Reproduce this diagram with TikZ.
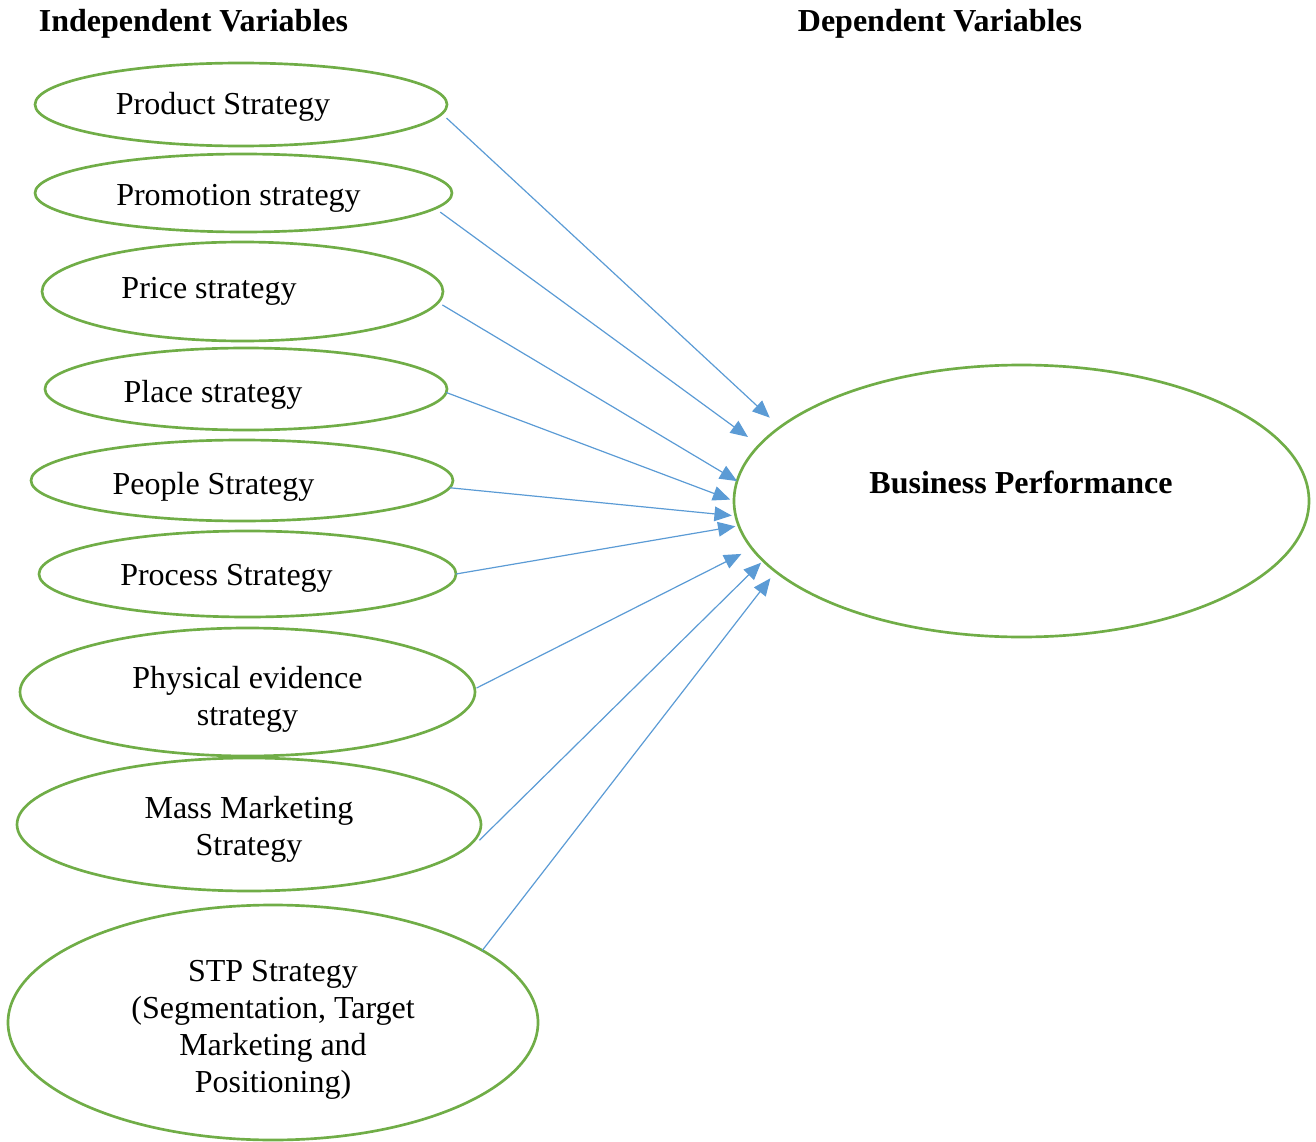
\documentclass[tikz,border=0pt]{standalone}
\usepackage{fontspec}
\setmainfont{Liberation Serif}
\usetikzlibrary{arrows.meta,shapes.geometric}

\definecolor {ovalColor}{RGB}{112, 173,  71}
\definecolor{arrowColor}{RGB}{ 91, 155, 213}

\begin{document}
\begin{tikzpicture}[
  x=0.375pt, y=-0.375pt,
  var oval/.style 2 args={draw=ovalColor, line width=1pt, ellipse,
    inner sep=0pt, outer sep=0pt,
    minimum width=#1*0.375pt, minimum height=#2*0.375pt},
  var text/.style={anchor=base, align=center, font=\fontsize{12}{13.8}\selectfont},
  var head/.style={anchor=base, font=\fontsize{12}{13.8}\selectfont\bfseries},
  link/.style={draw=arrowColor, line width=0.45pt,
    -{Triangle[length=6.5pt, width=5.5pt]}},
]
%%%%%%%%%%%%%%%%%%%%%%%%%%%%%%%%%%%%%%%%%%%%%%%%%%%%%%%%%%%%%%%%%%%%%%%%%%%%%%%%%
%
%   FRAME + HEADINGS
%
%%%%%%%%%%%%%%%%%%%%%%%%%%%%%%%%%%%%%%%%%%%%%%%%%%%%%%%%%%%%%%%%%%%%%%%%%%%%%%%%%
\useasboundingbox (0,0) rectangle (1316,1142);

\node[var head] (indepHead) at (193.5,31) {Independent Variables};
\node[var head] (depHead)   at (940,31)   {Dependent Variables};

%%%%%%%%%%%%%%%%%%%%%%%%%%%%%%%%%%%%%%%%%%%%%%%%%%%%%%%%%%%%%%%%%%%%%%%%%%%%%%%%%
%
%   OVALS
%
%%%%%%%%%%%%%%%%%%%%%%%%%%%%%%%%%%%%%%%%%%%%%%%%%%%%%%%%%%%%%%%%%%%%%%%%%%%%%%%%%
\node[var oval={412}{83}]  (product)   at (241,104.5)  {};
\node[var oval={417}{78}]  (promotion) at (243.5,193)  {};
\node[var oval={401}{99}]  (price)     at (242.5,291.5){};
\node[var oval={402}{82}]  (place)     at (246,389)    {};
\node[var oval={422}{81}]  (people)    at (242,480.5)  {};
\node[var oval={417}{86}]  (process)   at (247.5,574)  {};
\node[var oval={455}{128}] (evidence)  at (247.5,692)  {};
\node[var oval={464}{133}] (mass)      at (249,824.5)  {};
\node[var oval={530}{235}] (stp)       at (273,1022.5) {};
\node[var oval={575}{272}] (perf)      at (1021.5,501) {};

% labels sit a little off centre, as in the source (base = last line)
\node[var text] (productText)   at (223,115)   {Product Strategy};
\node[var text] (promotionText) at (238.5,205) {Promotion strategy};
\node[var text] (priceText)     at (209,298)   {Price strategy};
\node[var text] (placeText)     at (213,402)   {Place strategy};
\node[var text] (peopleText)    at (213.5,494) {People Strategy};
\node[var text] (processText)   at (226.5,585) {Process Strategy};
\node[var text] (evidenceText)  at (247.5,725) {Physical evidence\\strategy};
\node[var text] (massText)      at (249,855)   {Mass Marketing\\Strategy};
\node[var text] (stpText)       at (273,1092)
  {STP Strategy\\(Segmentation, Target\\Marketing and\\Positioning)};
\node[var head] (perfText)      at (1021,493)  {Business Performance};

%%%%%%%%%%%%%%%%%%%%%%%%%%%%%%%%%%%%%%%%%%%%%%%%%%%%%%%%%%%%%%%%%%%%%%%%%%%%%%%%%
%
%   ARROWS
%
%%%%%%%%%%%%%%%%%%%%%%%%%%%%%%%%%%%%%%%%%%%%%%%%%%%%%%%%%%%%%%%%%%%%%%%%%%%%%%%%%
\foreach \src/\out/\dx/\in/\gap in {
    product/356/11/163.6/5.25, promotion/354.8/15/168.4/5.25, price/356/7/176.2/0,
    place/359/0/180/1.5, people/358.5/0/183.2/1.5, process/0/0/185.8/1.3,
    evidence/1/2/190.5/4.5, mass/356/5/193.4/1.1, stp/19.8/0/196.6/3.2}
  \draw[link, shorten >=\gap pt] ([xshift=\dx*0.375pt]\src.\out) -- (perf.\in);

\end{tikzpicture}
\end{document}
